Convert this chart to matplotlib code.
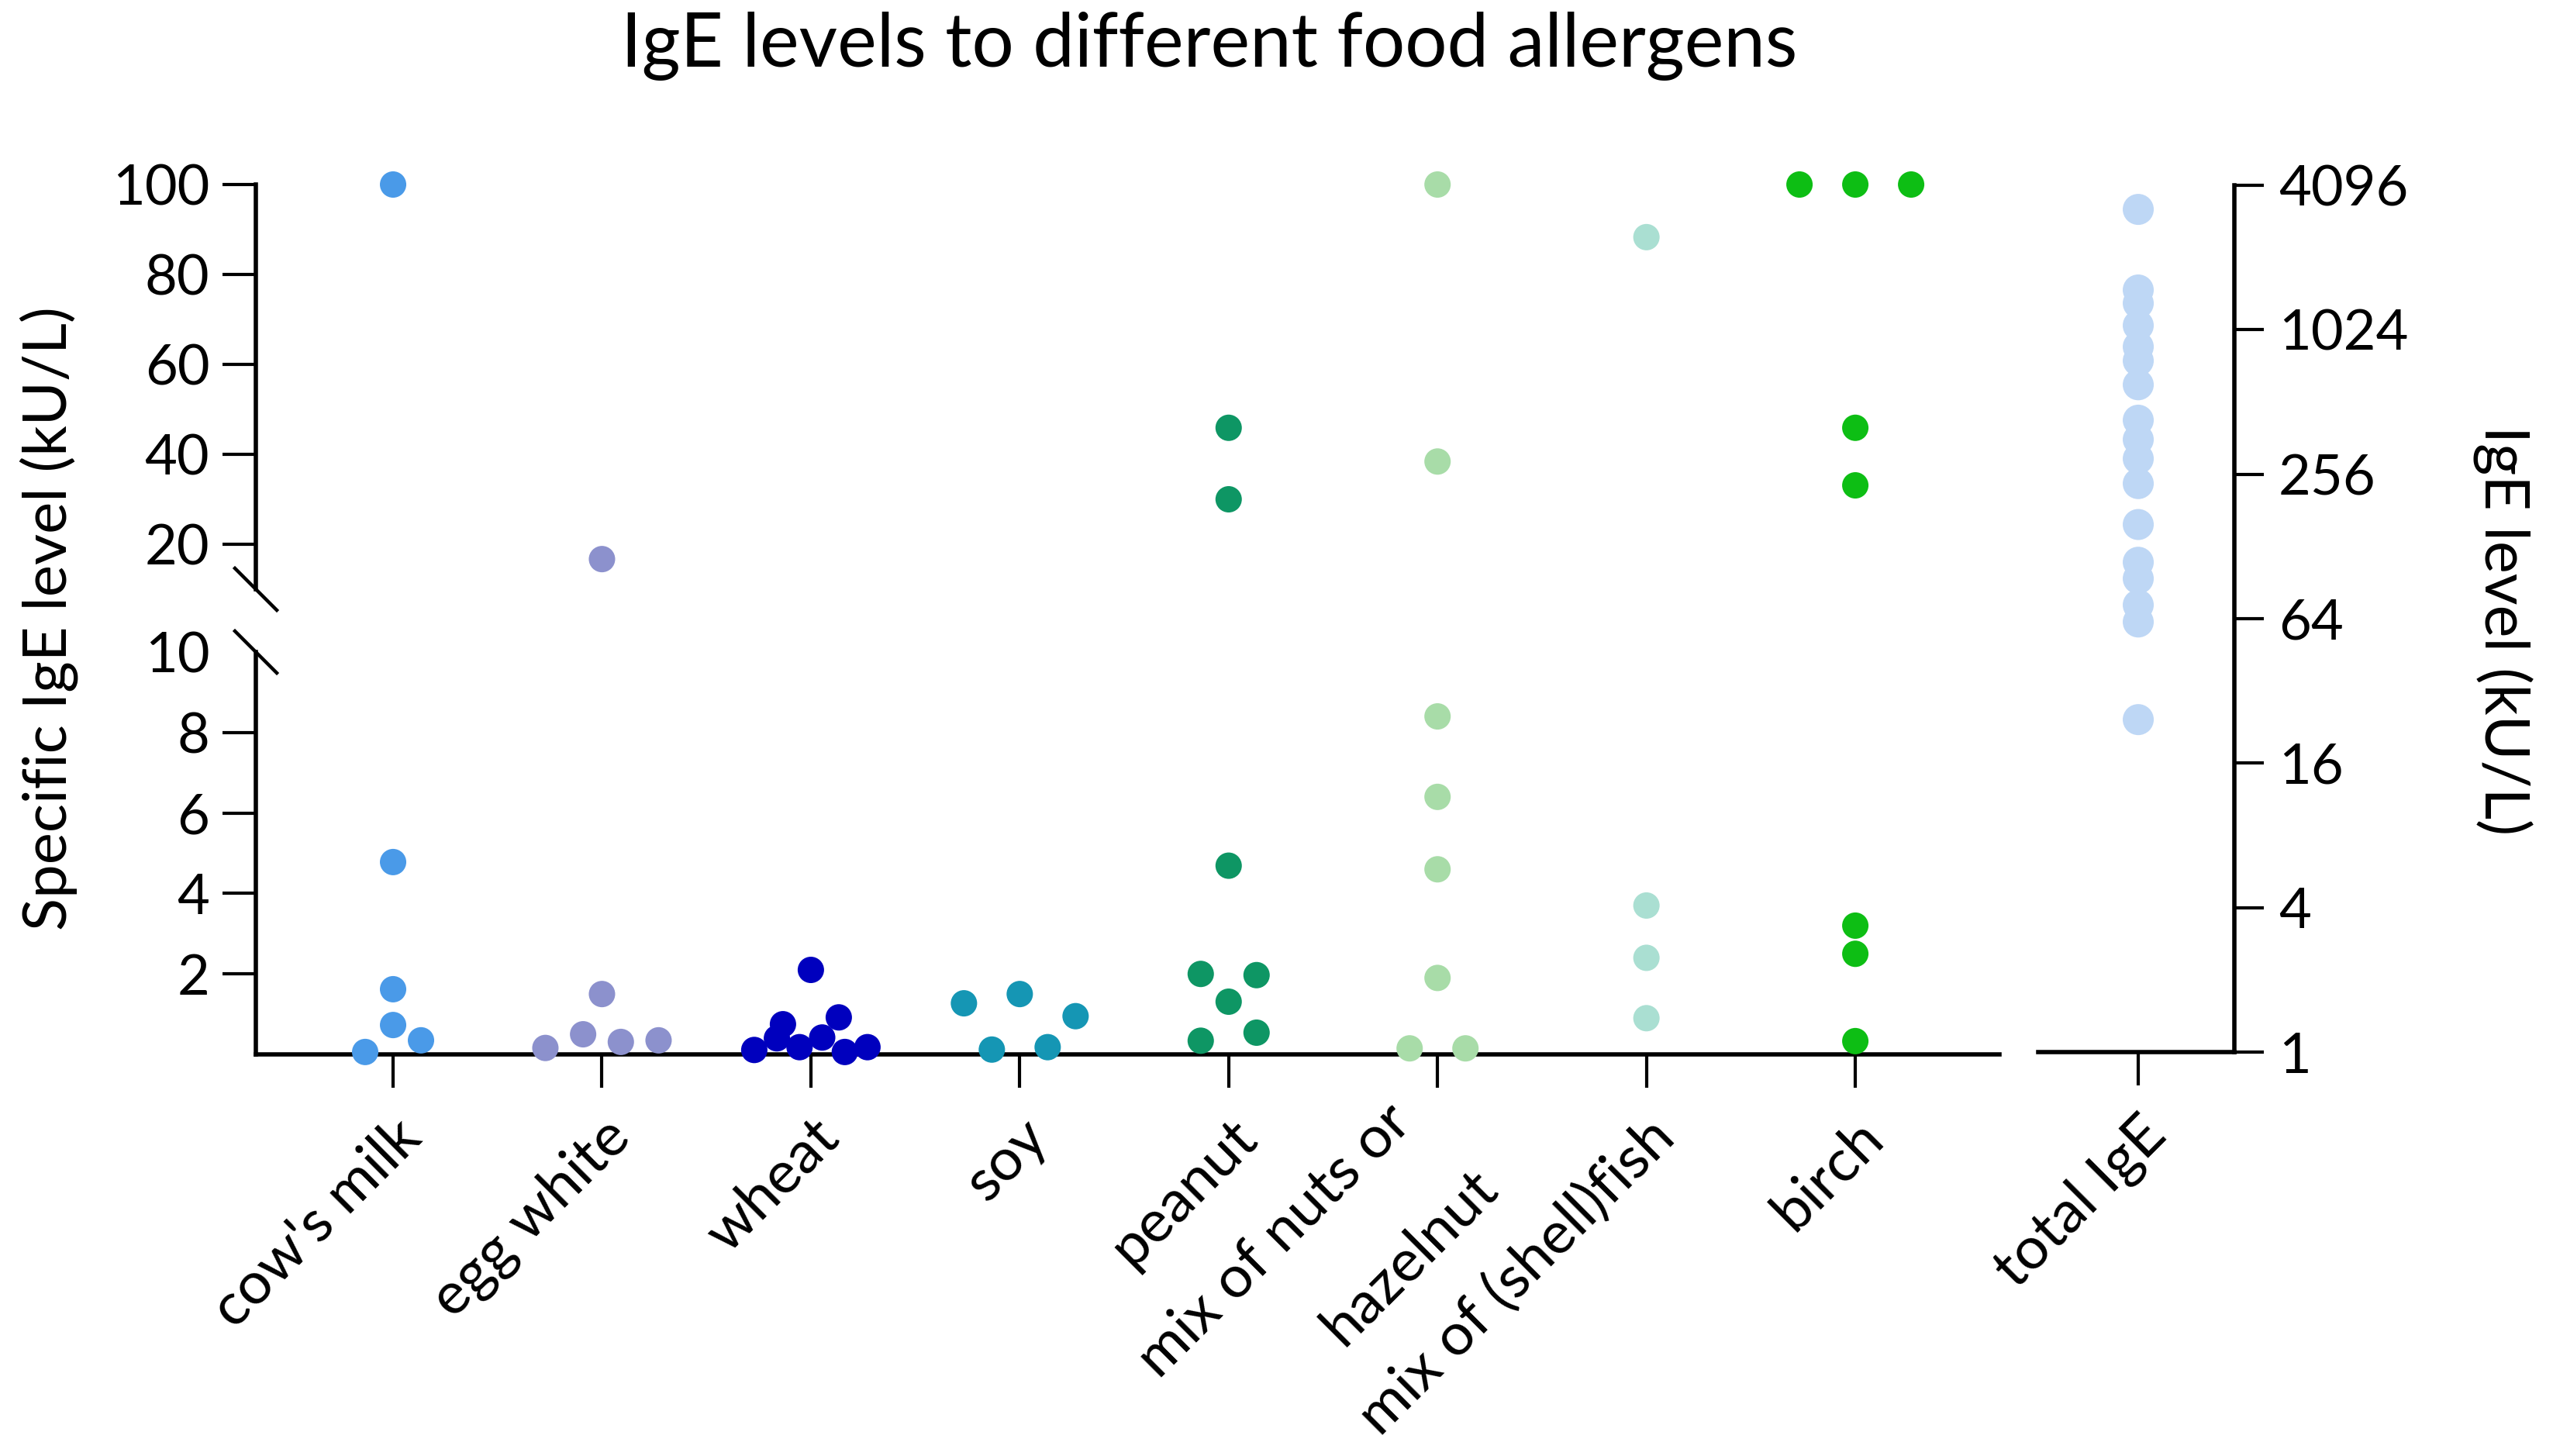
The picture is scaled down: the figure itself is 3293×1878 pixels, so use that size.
import numpy as np
import matplotlib
matplotlib.use("Agg")
import matplotlib.pyplot as plt
from matplotlib.transforms import ScaledTranslation

plt.rcParams['font.family'] = ['Lato', 'DejaVu Sans']

# ---------------- data (in entry order) ----------------
categories = ["cow's milk", "egg white", "wheat", "soy", "peanut",
              "mix of nuts or\nhazelnut", "mix of (shell)fish", "birch"]
cows_milk = [0.06, 0.35, 0.73, 1.62, 4.78, 100]
egg_white = [0.16, 0.50, 0.31, 0.35, 1.50, 16.7]
wheat = [0.11, 0.40, 0.18, 0.42, 0.06, 0.18, 0.75, 0.92, 2.10]
soy = [0.12, 0.18, 1.27, 1.50, 0.95]
peanut = [0.34, 0.54, 1.31, 2.00, 1.97, 4.69, 30.0, 45.9]
nuts = [0.15, 0.15, 1.9, 4.6, 6.4, 8.4, 38.4, 100]
fish = [0.9, 2.4, 3.7, 88.3]
birch = [0.33, 2.5, 3.2, 33.1, 45.9, 100, 100, 100]
total_label = "total IgE"
total_ige = [3250, 1500, 1320, 1067, 870, 760, 604, 430, 357, 297, 234,
             158, 110, 94, 73, 62, 24.3]

specific = [cows_milk, egg_white, wheat, soy, peanut, nuts, fish, birch]
colors = ["#4A9AE8", "#8C91CD", "#0000BE", "#1596B4", "#0E9664",
          "#A8DCA8", "#AADFD2", "#0DBE14"]
total_color = "#BED7F5"

lower_ticks = [2, 4, 6, 8, 10]
upper_ticks = [20, 40, 60, 80, 100]
right_ticks = [1, 4, 16, 64, 256, 1024, 4096]

# ---------------- layout ----------------
W, H = 3293, 1878
fig = plt.figure(figsize=(W / 100, H / 100), dpi=100)


def px_axes(left, top, right, bottom):
    return fig.add_axes([left / W, 1 - bottom / H, (right - left) / W, (bottom - top) / H])


ax_lo = px_axes(330, 841, 2579, 1360)
ax_hi = px_axes(330, 238, 2579, 760)
ax_r = px_axes(2629, 239, 2882, 1357)

LW = 4.0
TICKLEN = 31
TICKW = 3.0
XPAD = 20
FS = 52
XFS = 55

for ax in (ax_lo, ax_hi):
    ax.set_xlim(-0.657, 7.69)
    ax.spines['top'].set_visible(False)
    ax.spines['right'].set_visible(False)
    ax.spines['left'].set_linewidth(LW)
    ax.spines['bottom'].set_linewidth(LW)
    ax.tick_params(axis='both', direction='out', length=TICKLEN, width=TICKW,
                   labelsize=FS, pad=12)
    ax.patch.set_alpha(0)

ax_lo.set_ylim(0, 10)
ax_hi.set_ylim(10, 100)
ax_hi.spines['bottom'].set_visible(False)
ax_hi.set_xticks([])
ax_lo.set_yticks(lower_ticks)
ax_lo.set_yticklabels([str(t) for t in lower_ticks])
ax_lo.yaxis.get_major_ticks()[-1].tick1line.set_visible(False)
ax_hi.set_yticks(upper_ticks)
ax_hi.set_yticklabels([str(t) for t in upper_ticks])

# category labels: first line as tick label, further lines as own texts
ax_lo.set_xticks(range(len(categories)))
first_lines = [c.split("\n")[0] for c in categories]
xlabels = ax_lo.set_xticklabels(first_lines, rotation=45, ha='right', va='top',
                                rotation_mode='anchor', fontsize=XFS)
ax_lo.tick_params(axis='x', pad=XPAD)
base_dy = -(TICKLEN + XPAD) / 72  # inches below the axis line
for ci, (c, lab) in enumerate(zip(categories, xlabels)):
    parts = c.split("\n")
    if len(parts) > 1:
        lab.set_transform(lab.get_transform() +
                          ScaledTranslation(-0.70, 0.20, fig.dpi_scale_trans))
        for k, extra in enumerate(parts[1:], start=1):
            ax_lo.text(ci, 0, extra, rotation=45, ha='right', va='top',
                       rotation_mode='anchor', fontsize=XFS,
                       transform=ax_lo.get_xaxis_transform() +
                       ScaledTranslation(-0.70 + 1.11 * k,
                                         base_dy + 0.20 - 0.85 * k,
                                         fig.dpi_scale_trans))

# right axis (total IgE, log2)
ax_r.set_yscale('log', base=2)
ax_r.set_ylim(1, 4096)
ax_r.set_xlim(-0.51, 0.49)
ax_r.patch.set_alpha(0)
ax_r.spines['top'].set_visible(False)
ax_r.spines['left'].set_visible(False)
ax_r.spines['right'].set_linewidth(LW)
ax_r.spines['bottom'].set_linewidth(LW)
ax_r.yaxis.tick_right()
ax_r.set_yticks(right_ticks)
ax_r.set_yticklabels([str(t) for t in right_ticks])
ax_r.minorticks_off()
ax_r.tick_params(axis='both', direction='out', length=27, width=TICKW,
                 labelsize=FS, pad=14)
ax_r.set_xticks([0])
ax_r.set_xticklabels([total_label], rotation=45, ha='right', va='top',
                     rotation_mode='anchor', fontsize=XFS)
ax_r.tick_params(axis='x', length=TICKLEN, pad=XPAD)

# break marks on the left spine
dx = 27 / 2249
ax_hi.plot([-dx, dx], [27 / 522, -27 / 522], transform=ax_hi.transAxes,
           color='black', lw=3.2, clip_on=False)
ax_lo.plot([-dx, dx], [1 + 27 / 519, 1 - 27 / 519], transform=ax_lo.transAxes,
           color='black', lw=3.2, clip_on=False)


# ---------------- swarm placement ----------------
def swarm_x(xc, values, D=33.5, step_max=72.0, width_max=146.0):
    pts = []
    for v in values:
        ax = ax_hi if v > 10 else ax_lo
        pts.append(ax.transData.transform((xc, v)))
    yv = [p[1] for p in pts]
    order = sorted(range(len(values)), key=lambda i: yv[i])
    rows = []
    for i in order:
        if rows and yv[i] - min(yv[j] for j in rows[-1]) < D:
            rows[-1].append(i)
        else:
            rows.append([i])
    xs = [0.0] * len(values)
    for row in rows:
        row = sorted(row)  # keep entry order inside a row
        n = len(row)
        step = step_max if n == 1 else min(step_max, width_max / (n - 1))
        for k, i in enumerate(row):
            xpx = pts[i][0] + (k - (n - 1) / 2) * step
            ax = ax_hi if values[i] > 10 else ax_lo
            xs[i] = ax.transData.inverted().transform((xpx, pts[i][1]))[0]
    return xs


S = 600
for ci, (vals, col) in enumerate(zip(specific, colors)):
    xs = swarm_x(ci, vals)
    for x, v in zip(xs, vals):
        ax = ax_hi if v > 10 else ax_lo
        ax.scatter([x], [v], s=S, color=col, edgecolors='none',
                   clip_on=False, zorder=3)

ax_r.scatter(np.zeros(len(total_ige)), total_ige, s=830, color=total_color,
             edgecolors='none', clip_on=False, zorder=3)

# ---------------- text ----------------
fig.text(1560 / W, 1 - 59 / H, "IgE levels to different food allergens",
         ha='center', va='center', fontsize=69)
fig.text(63 / W, 1 - 798 / H, "Specific IgE level (kU/L)", rotation=90,
         ha='center', va='center', fontsize=56)
fig.text(3228 / W, 1 - 813 / H, "IgE level (kU/L)", rotation=270,
         ha='center', va='center', fontsize=57)

fig.savefig("out.png", dpi=100, facecolor='white')
